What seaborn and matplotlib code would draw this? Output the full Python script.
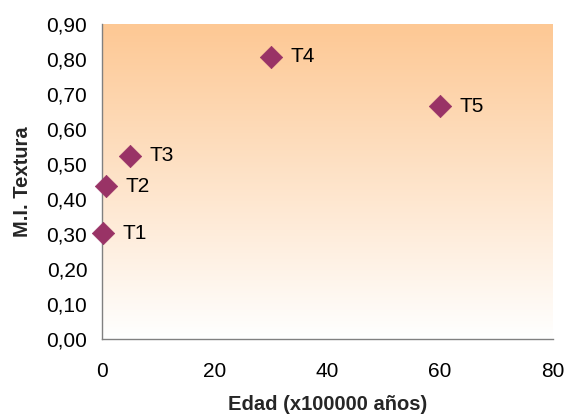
import numpy as np
import pandas as pd
import matplotlib
matplotlib.use("Agg")
import matplotlib.pyplot as plt
import seaborn as sns
from matplotlib.colors import LinearSegmentedColormap
from matplotlib.ticker import FuncFormatter

labels = ["T1", "T2", "T3", "T4", "T5"]
edad = [0.2, 0.8, 5, 30, 60]
textura = [0.303, 0.437, 0.524, 0.807, 0.665]
x_ticks = [0, 20, 40, 60, 80]
y_ticks = [0.0, 0.1, 0.2, 0.3, 0.4, 0.5, 0.6, 0.7, 0.8, 0.9]

df = pd.DataFrame({"label": labels, "edad": edad, "textura": textura})

sns.set_style("white")
plt.rcParams["font.family"] = ["Liberation Sans", "DejaVu Sans"]

fig = plt.figure(figsize=(5.65, 4.16), dpi=100)
ax = fig.add_axes([0.1805, 0.185, 0.798, 0.757])

cmap = LinearSegmentedColormap.from_list("bg", ["#FFFFFF", "#FDC894"])
grad = np.linspace(0, 1, 256).reshape(-1, 1)
ax.imshow(grad, cmap=cmap, origin="lower", aspect="auto",
          extent=[0, 80, 0, 0.9], zorder=0)

sns.scatterplot(data=df, x="edad", y="textura", marker="D", s=130,
                color="#993366", edgecolor="#993366", linewidth=0.5,
                ax=ax, zorder=3, clip_on=False)

for _, r in df.iterrows():
    ax.annotate(r["label"], (r["edad"], r["textura"]), xytext=(14, 0),
                textcoords="offset points", va="center", ha="left",
                fontsize=15, color="black")

ax.set_xlim(0, 80)
ax.set_ylim(0, 0.9)
ax.set_xticks(x_ticks)
ax.set_yticks(y_ticks)
ax.yaxis.set_major_formatter(FuncFormatter(lambda v, p: f"{v:.2f}".replace(".", ",")))
ax.tick_params(axis="both", labelsize=15, colors="black", length=3.6,
               width=1, direction="out", color="#808080")
ax.tick_params(axis="y", pad=7)
ax.tick_params(axis="x", pad=13)
for s in ["top", "right"]:
    ax.spines[s].set_visible(False)
for s in ["left", "bottom"]:
    ax.spines[s].set_color("#808080")
    ax.spines[s].set_linewidth(1)

ax.set_xlabel("Edad (x100000 años)", fontsize=14.5, fontweight="bold")
ax.set_ylabel("M.I. Textura", fontsize=14.5, fontweight="bold")
ax.xaxis.set_label_coords(0.5, -0.178)
ax.yaxis.set_label_coords(-0.155, 0.5)

fig.savefig("out.png", dpi=100)
